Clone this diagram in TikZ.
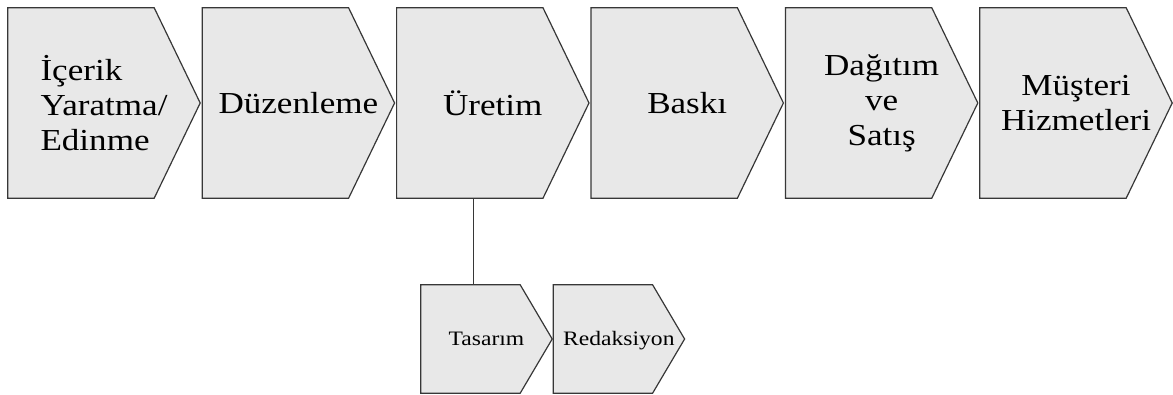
\documentclass[tikz,border=0pt]{standalone}
\usepackage{fontspec}
\setmainfont{Liberation Serif}[FakeStretch=1.15]
\usetikzlibrary{positioning,backgrounds}
\definecolor{chevgray}{RGB}{232,232,232}
\definecolor{chevline}{RGB}{55,55,55}
\begin{document}
\begin{tikzpicture}[
        x=1pt, y=1pt,
        node distance=2pt,
        stage/.style={rectangle, minimum width=192pt, minimum height=190pt, inner sep=0pt, align=center, font=\fontsize{30.5}{35}\selectfont},
        substage/.style={rectangle, minimum width=131pt, minimum height=108pt, inner sep=0pt, text height=15pt, text depth=3pt, font=\fontsize{20.5}{24}\selectfont},
        chevron/.style={fill=chevgray, draw=chevline, line width=1.2pt, line join=miter},
        link/.style={draw=chevline, line width=1.2pt}
    ]
    \useasboundingbox (0,0) rectangle (1173,394);

    \node[stage, align=left] (icerik) at (104,291) {İçerik\\Yaratma/\\Edinme};
    \node[stage, right=of icerik] (duzenleme) {Düzenleme};
    \node[stage, right=of duzenleme] (uretim) {Üretim};
    \node[stage, right=of uretim] (baski) {Baskı};
    \node[stage, right=of baski] (dagitim) {Dağıtım\\ve\\Satış};
    \node[stage, right=of dagitim] (musteri) {Müşteri\\Hizmetleri};

    \node[substage] (tasarim) at (486.5,55) {Tasarım};
    \node[substage, right=1pt of tasarim] (redaksiyon) {Redaksiyon};

    \begin{pgfonlayer}{background}
        \foreach \n/\d in {icerik/46, duzenleme/46, uretim/46, baski/46, dagitim/46, musteri/46, tasarim/32, redaksiyon/32}
            \filldraw[chevron] (\n.north west) -- ([xshift=-\d pt]\n.north east) -- (\n.east) -- ([xshift=-\d pt]\n.south east) -- (\n.south west) -- cycle;
    \end{pgfonlayer}

    \draw[link] ([xshift=-19pt]uretim.south) -- ([xshift=-19pt]uretim.south |- tasarim.north);

\end{tikzpicture}
\end{document}
